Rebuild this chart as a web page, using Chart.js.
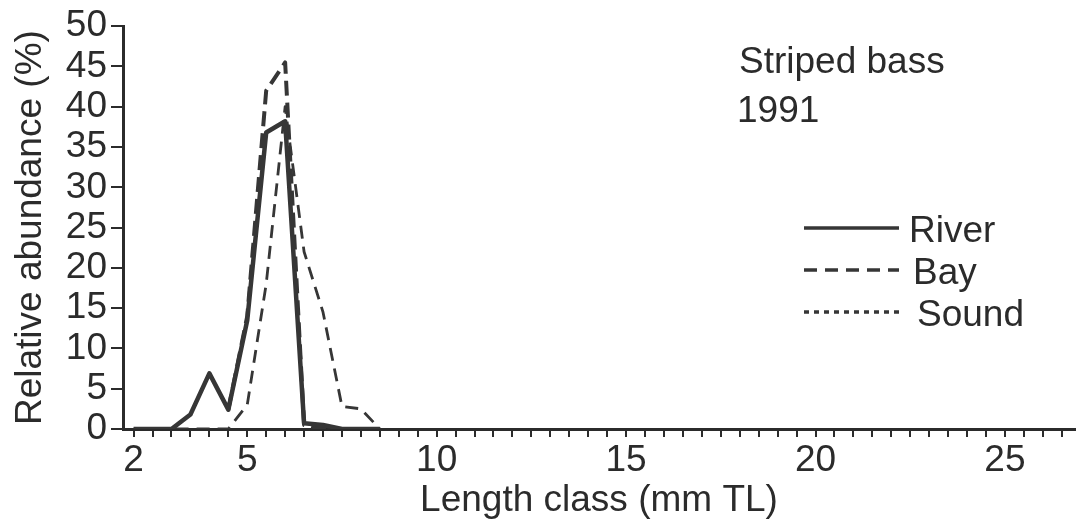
<!DOCTYPE html>
<html>
<head>
<meta charset="utf-8">
<script src="https://cdn.jsdelivr.net/npm/chart.js@4.4.1/dist/chart.umd.min.js"></script>
<style>
  html, body { margin: 0; padding: 0; background: #fff; }
  #wrap { width: 1083px; height: 527px; }
</style>
</head>
<body>
<div id="wrap"><canvas id="lengthChart" width="1083" height="527"></canvas></div>
<script>
// length classes (mm TL) and relative abundance (%) per area
const LENGTHS = [2, 2.5, 3, 3.5, 4, 4.5, 5, 5.5, 6, 6.5, 7, 7.5, 8, 8.5];
const RIVER   = [0, 0, 0, 1.8, 6.9, 2.4, 13.5, 36.8, 38.2, 0.7, 0.5, 0, 0, 0];
const BAY     = [0, 0, 0, 0, 0, 0, 3, 18, 40, 22, 14.5, 2.8, 2.5, 0];
const SOUND   = [null, null, null, null, null, 2.4, 14, 42, 45.5, 0.5, 0, 0, 0, 0];

const X_LABELS = [2, 5, 10, 15, 20, 25];
const X_TICK_FIRST = 2, X_TICK_LAST = 26.5, X_TICK_STEP = 0.5;
const Y_MAX = 50, Y_STEP = 5;

const TITLE_LINES = ['Striped bass', '1991'];

const INK = '#2b2b2b';
const FONT = { family: "'Liberation Sans', Arial, Helvetica, sans-serif", size: 37 };

function pts(vals) {
  return LENGTHS.map((x, i) => ({ x: x, y: vals[i] }));
}

const xTicks = [];
for (let v = X_TICK_FIRST; v <= X_TICK_LAST + 1e-9; v += X_TICK_STEP) xTicks.push(Math.round(v * 10) / 10);

// legend + species/year note, drawn on top of the plot
const notes = {
  id: 'notes',
  afterDraw(chart) {
    const ctx = chart.ctx;
    ctx.save();
    ctx.fillStyle = INK;
    ctx.font = `${FONT.size}px ${FONT.family}`;
    ctx.textBaseline = 'alphabetic';
    ctx.fillText(TITLE_LINES[0], 739, 73);
    ctx.fillText(TITLE_LINES[1], 737, 122);

    chart.data.datasets.forEach((ds, i) => {
      const y = 228 + i * 42;
      ctx.strokeStyle = ds.borderColor;
      ctx.lineWidth = 3.5;
      ctx.setLineDash(ds.legendDash || []);
      ctx.beginPath();
      ctx.moveTo(804, y);
      ctx.lineTo(899, y);
      ctx.stroke();
      ctx.setLineDash([]);
      ctx.fillText(ds.label, 909 + i * 4, y + 14);
    });
    ctx.restore();
  }
};

new Chart(document.getElementById('lengthChart'), {
  type: 'line',
  data: {
    datasets: [
      { label: 'River', data: pts(RIVER), borderColor: '#363636', borderWidth: 4.5, legendDash: [] },
      { label: 'Bay', data: pts(BAY), borderColor: '#363636', borderWidth: 2.8, borderDash: [13, 8], legendDash: [13, 8] },
      { label: 'Sound', data: pts(SOUND), borderColor: '#363636', borderWidth: 4, borderDash: [15, 7], legendDash: [5, 5] }
    ]
  },
  options: {
    responsive: false,
    animation: false,
    layout: { padding: { top: 25, right: 8, left: 0, bottom: 0 } },
    elements: { point: { radius: 0 }, line: { tension: 0, borderCapStyle: 'butt', borderJoinStyle: 'round' } },
    plugins: { legend: { display: false }, tooltip: { enabled: false } },
    scales: {
      x: {
        type: 'linear',
        min: 1.72,
        max: 26.85,
        afterBuildTicks: ax => { ax.ticks = xTicks.map(v => ({ value: v })); },
        afterFit: s => { s.height = 98; },
        ticks: {
          autoSkip: false, maxRotation: 0, color: INK, font: FONT, padding: 2,
          callback: v => X_LABELS.includes(v) ? String(v) : ''
        },
        grid: { drawOnChartArea: false, tickLength: 8, color: INK, lineWidth: 2 },
        border: { display: true, color: INK, width: 3 },
        title: { display: true, text: 'Length class (mm TL)', color: INK, font: FONT, padding: { top: 0, bottom: 4 } }
      },
      y: {
        min: 0,
        max: Y_MAX,
        afterFit: s => { s.width = 123; },
        ticks: { stepSize: Y_STEP, autoSkip: false, color: INK, font: FONT, padding: 4 },
        grid: { drawOnChartArea: false, tickLength: 12, color: INK, lineWidth: 2 },
        border: { display: true, color: INK, width: 3 },
        title: { display: true, text: 'Relative abundance (%)', color: INK, font: FONT, padding: { top: 9, bottom: 0 } }
      }
    }
  },
  plugins: [notes]
});
</script>
</body>
</html>
